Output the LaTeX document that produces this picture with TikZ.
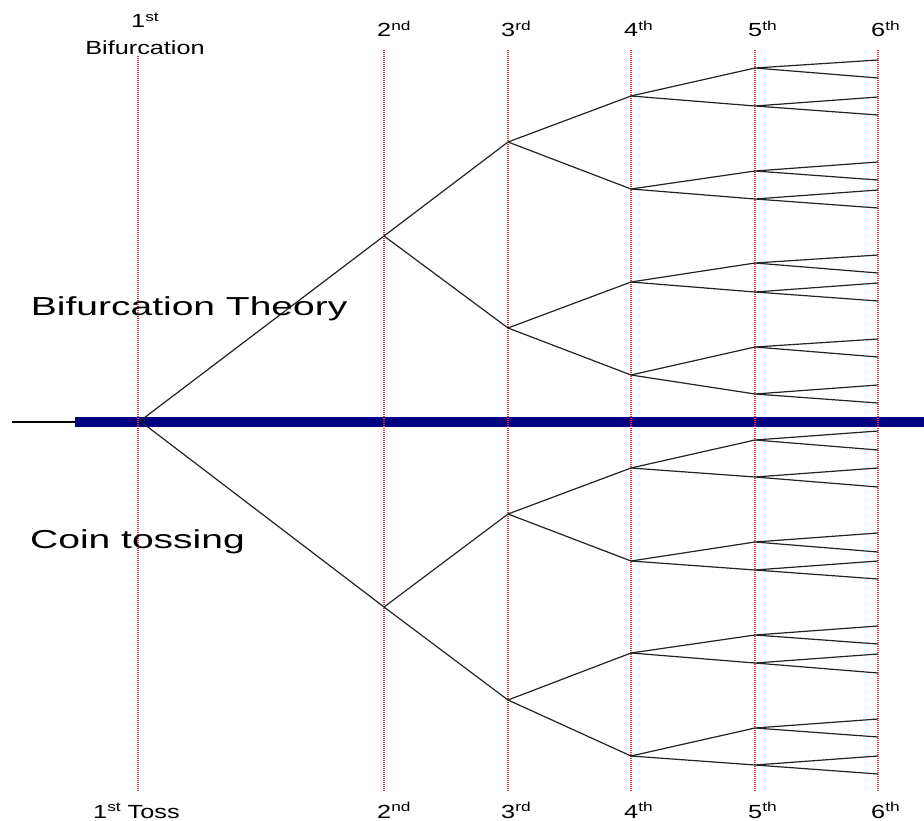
\documentclass[tikz,border=0pt]{standalone}
\usepackage{fontspec}
\usepackage{graphicx}
\setmainfont{Liberation Sans}
\definecolor{guidered}{RGB}{225,45,60}
\definecolor{barblue}{RGB}{0,0,128}
\definecolor{treegray}{RGB}{35,35,35}
\newcommand{\stretchtxt}[1]{\scalebox{1.5}[1]{#1}}
\newcommand{\smallstretch}[1]{\scalebox{1.33}[1]{#1}}
\newcommand{\supr}[1]{\raisebox{0.34em}{\fontsize{13}{13}\selectfont #1}}
\tikzset{
  guide/.style={guidered, line width=1.3pt, dash pattern=on 1pt off 1pt},
  branch/.style={treegray, line width=1.2pt, line join=round},
  lbl/.style={inner sep=0pt, font=\fontsize{19}{22}\selectfont},
  biglbl/.style={inner sep=0pt, font=\fontsize{26}{30}\selectfont, anchor=base west},
}
\begin{document}
\begin{tikzpicture}[x=1pt,y=-1pt]
\useasboundingbox (0,0) rectangle (924,821);
\fill[white] (0,0) rectangle (924,821);
% baseline bar
\coordinate (ls) at (12,422);
\coordinate (bs) at (75,422);
\coordinate (be) at (924,422);
\draw[black, line width=1.3pt] (ls) -- (bs);
\draw[barblue, line width=10pt] (bs) -- (be);
% guide lines
\coordinate (t1) at (138,56); \coordinate (b1) at (138,792);
\draw[guide] (t1) -- (b1);
\foreach \k/\x in {2/384,3/508,4/631,5/755,6/878}{
  \coordinate (t\k) at (\x,50); \coordinate (b\k) at (\x,792);
  \draw[guide] (t\k) -- (b\k);
}
% tree
\coordinate (r) at (140,421);
\coordinate (u2) at (384,236);
\coordinate (l2) at (384,607);
\coordinate (u3a) at (508,142);
\coordinate (u3b) at (508,328);
\coordinate (l3a) at (508,514);
\coordinate (l3b) at (508,700);
\draw[branch] (u2) -- (r) -- (l2);
\draw[branch] (u3a) -- (u2) -- (u3b);
\draw[branch] (l3a) -- (l2) -- (l3b);
\foreach \n/\y/\pp in {a/96/u3a,b/189/u3a,c/282/u3b,d/375/u3b,e/468/l3a,f/561/l3a,g/653/l3b,h/756/l3b}{
  \coordinate (n4\n) at (631,\y);
  \draw[branch] (\pp) -- (n4\n);
}
\foreach \i/\y/\pp in {1/68/n4a,2/106/n4a,3/171/n4b,4/199/n4b,5/263/n4c,6/292/n4c,7/347/n4d,8/394/n4d,
  9/440/n4e,10/477/n4e,11/542/n4f,12/570/n4f,13/635/n4g,14/663/n4g,15/728/n4h,16/765/n4h}{
  \coordinate (n5-\i) at (755,\y);
  \draw[branch] (\pp) -- (n5-\i);
}
\foreach \i/\ya/\yb in {1/60/78,2/97/115,3/162/180,4/190/208,5/255/273,6/283/301,7/339/357,8/385/403,
  9/431/450,10/468/487,11/533/552,12/561/579,13/626/644,14/654/673,15/719/737,16/756/774}{
  \coordinate (n6-\i a) at (878,\ya);
  \coordinate (n6-\i b) at (878,\yb);
  \draw[branch] (n6-\i a) -- (n5-\i) -- (n6-\i b);
}
% labels
\node[lbl, anchor=base west] (top1) at (131,28) {\smallstretch{1\supr{st}}};
\node[lbl, anchor=base] (topbif) at (145,55) {\smallstretch{Bifurcation}};
\foreach \k/\x/\s in {2/384/nd,3/508/rd,4/631/th,5/755/th,6/878/th}{
  \node[lbl, anchor=base west] (top\k) at (\x-7,37) {\smallstretch{\k\supr{\s}}};
  \node[lbl, anchor=base west] (bot\k) at (\x-7,818) {\smallstretch{\k\supr{\s}}};
}
\node[lbl, anchor=base west] (bot1) at (93,818) {\smallstretch{1\supr{st} Toss}};
\node[biglbl] (bif) at (30.7,315.7) {\stretchtxt{Bifurcation Theory}};
\node[biglbl] (coin) at (30,548.3) {\stretchtxt{Coin tossing}};
\end{tikzpicture}
\end{document}
